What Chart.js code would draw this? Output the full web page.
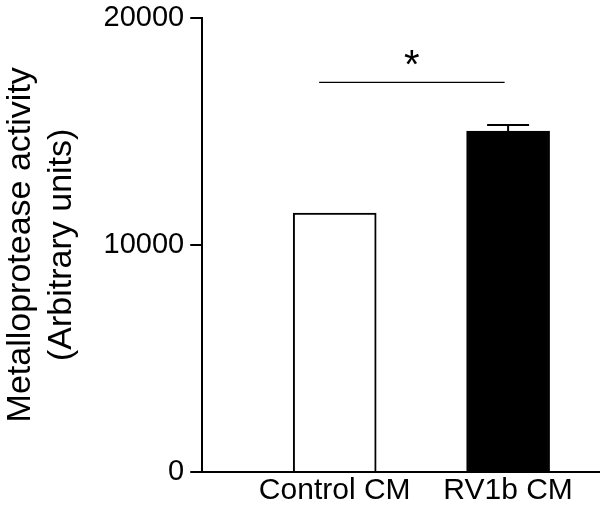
<!DOCTYPE html>
<html>
<head>
<meta charset="utf-8">
<script src="https://cdn.jsdelivr.net/npm/chart.js@4"></script>
<style>
  html, body { margin: 0; padding: 0; background: #fff; }
  #wrap { width: 600px; height: 514px; }
</style>
</head>
<body>
<div id="wrap"><canvas id="chart"></canvas></div>
<script>
// --- data ---
const categories = ['Control CM', 'RV1b CM'];
const means = [11400, 15000];
const errors = [0, 270];
const yTicks = [0, 10000, 20000];
// significance bracket: from/to in category units, height, label
const sigSpan = [0.91, 1.98];
const sigLevel = [17150];
const sigLabel = ['*'];

const FONT = "'Liberation Sans', Arial, Helvetica, sans-serif";

// error bars + significance line drawn through the scales
const extrasPlugin = {
    id: 'extras',
    afterDatasetsDraw(chart) {
        const ctx = chart.ctx;
        const x = chart.scales.x, y = chart.scales.y;
        ctx.save();
        ctx.strokeStyle = '#000';
        ctx.lineWidth = 2;
        means.forEach((m, i) => {
            if (!errors[i]) return;
            const cx = x.getPixelForValue(i + 1);
            const top = y.getPixelForValue(m + errors[i]);
            const base = y.getPixelForValue(m);
            ctx.beginPath();
            ctx.moveTo(cx, base);
            ctx.lineTo(cx, top);
            ctx.moveTo(cx - 21, top);
            ctx.lineTo(cx + 21, top);
            ctx.stroke();
        });
        const sy = y.getPixelForValue(sigLevel[0]);
        ctx.lineWidth = 1.3;
        ctx.beginPath();
        ctx.moveTo(x.getPixelForValue(sigSpan[0]), sy);
        ctx.lineTo(x.getPixelForValue(sigSpan[1]), sy);
        ctx.stroke();
        ctx.fillStyle = '#000';
        ctx.font = '40px ' + FONT;
        ctx.textAlign = 'center';
        ctx.textBaseline = 'alphabetic';
        ctx.fillText(sigLabel[0], x.getPixelForValue((sigSpan[0] + sigSpan[1]) / 2), sy - 4);
        ctx.restore();
    }
};

document.addEventListener('DOMContentLoaded', () => {
    Chart.defaults.font.family = FONT;
    Chart.defaults.color = '#000';

    new Chart(document.getElementById('chart'), {
        type: 'bar',
        data: {
            datasets: [{
                data: means.map((v, i) => ({ x: i + 1, y: v })),
                backgroundColor: ['#fff', '#000'],
                borderColor: '#000',
                borderWidth: 2,
                barThickness: 83
            }]
        },
        options: {
            responsive: true,
            maintainAspectRatio: false,
            animation: false,
            layout: { padding: { top: 17, right: 0, left: 0, bottom: 4 } },
            plugins: { legend: { display: false }, tooltip: { enabled: false } },
            scales: {
                x: {
                    type: 'linear',
                    min: 0.236,
                    max: 2.53,
                    offset: false,
                    afterBuildTicks: axis => { axis.ticks = categories.map((c, i) => ({ value: i + 1 })); },
                    ticks: {
                        callback: v => categories[v - 1] || '',
                        font: { size: 30 },
                        padding: 1,
                        maxRotation: 0,
                        autoSkip: false
                    },
                    grid: { display: true, drawOnChartArea: false, drawTicks: false },
                    border: { color: '#000', width: 2 }
                },
                y: {
                    min: 0,
                    max: 20000,
                    afterBuildTicks: axis => { axis.ticks = yTicks.map(v => ({ value: v })); },
                    ticks: { font: { size: 29, lineHeight: 0.8 }, padding: 6, callback: v => String(v) },
                    grid: { drawOnChartArea: false, tickLength: 12, color: '#000', lineWidth: 2 },
                    border: { color: '#000', width: 2 },
                    title: {
                        display: true,
                        text: ['Metalloprotease activity', '(Arbitrary units)'],
                        font: { size: 34 },
                        lineHeight: 1.25,
                        padding: { top: 0, bottom: 16 }
                    }
                }
            }
        },
        plugins: [extrasPlugin]
    });
});
</script>
</body>
</html>
